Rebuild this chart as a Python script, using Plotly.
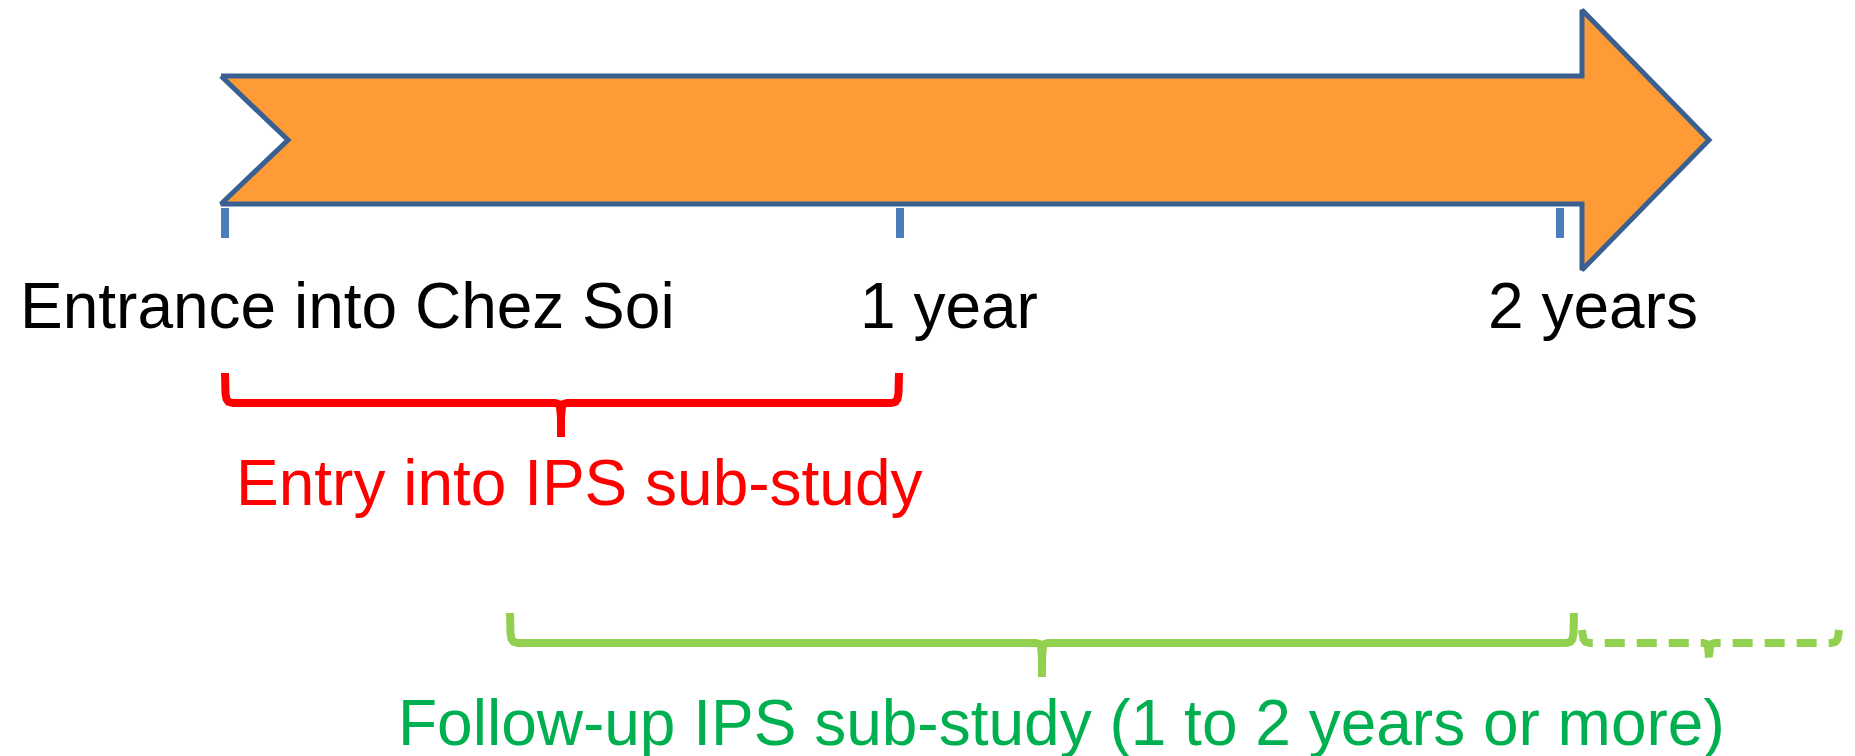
import plotly.graph_objects as go

W, H = 1855, 756

# ---- data (pixel-scaled diagram units) ----
milestone_labels = ["Entrance into Chez Soi", "1 year", "2 years"]
milestone_x = [225, 900, 1560]
label_left_x = [18, 858, 1486]
label_y = 306

# arrow outline vertices
arrow_x = [221, 1582, 1582, 1709, 1582, 1582, 221, 288, 221]
arrow_y = [76, 76, 10, 140, 270, 204, 204, 140, 76]

tick_top, tick_bottom = 208, 238

# braces: [x_start, x_end, x_mid, y_top, y_line, y_tip]
brace_entry = [225, 899, 561, 373, 403, 437]
brace_follow = [510, 1574, 1042, 613, 643, 677]
brace_follow_more = [1582, 1839, 1709, 630, 643, 654]

entry_text = "Entry into IPS sub-study"
entry_text_pos = [234, 483]
follow_text = "Follow-up IPS sub-study (1 to 2 years or more)"
follow_text_pos = [396, 723]

FONT = "Liberation Sans, Arial, sans-serif"
FONT_SIZE = 64


def brace_path(b):
    x0, x1, xm, yt, yh, yb = b
    h = yh - yt
    r = min(8, h * 0.6)
    xs = [x0, x0 + 0.5, x0 + 1.5, x0 + 3.5, x0 + r,
          xm - 6, xm - 2.5, xm - 1, xm - 0.5, xm, xm,
          xm, xm + 0.5, xm + 1, xm + 2.5, xm + 6,
          x1 - r, x1 - 3.5, x1 - 1.5, x1 - 0.5, x1]
    ys = [yt, yh - r * 1.2, yh - r * 0.5, yh - r * 0.15, yh,
          yh, yh + 1, yh + 4, yh + 9, yh + 15, yb,
          yh + 15, yh + 9, yh + 4, yh + 1, yh,
          yh, yh - r * 0.15, yh - r * 0.5, yh - r * 1.2, yt]
    return xs, ys


fig = go.Figure()

fig.add_trace(go.Scatter(
    x=arrow_x, y=arrow_y, mode="lines", fill="toself",
    fillcolor="#FF9B37", line=dict(color="#3A6091", width=5, simplify=False),
    hoverinfo="skip", showlegend=False))

tx, ty = [], []
for x in milestone_x:
    tx += [x, x, None]
    ty += [tick_top, tick_bottom, None]
fig.add_trace(go.Scatter(x=tx, y=ty, mode="lines",
                         line=dict(color="#4A7EBB", width=8, simplify=False),
                         hoverinfo="skip", showlegend=False))

for b, col, dash in [(brace_entry, "#FF0000", "solid"),
                     (brace_follow, "#92D050", "solid"),
                     (brace_follow_more, "#92D050", "20px,12px")]:
    xs, ys = brace_path(b)
    fig.add_trace(go.Scatter(x=xs, y=ys, mode="lines",
                             line=dict(color=col, width=8, dash=dash, simplify=False),
                             hoverinfo="skip", showlegend=False))

for lab, lx in zip(milestone_labels, label_left_x):
    fig.add_annotation(x=lx, y=label_y, text=lab, showarrow=False,
                       xanchor="left", yanchor="middle",
                       font=dict(family=FONT, size=FONT_SIZE, color="#000000"))

fig.add_annotation(x=entry_text_pos[0], y=entry_text_pos[1], text=entry_text,
                   showarrow=False, xanchor="left", yanchor="middle",
                   font=dict(family=FONT, size=FONT_SIZE, color="#FF0000"))
fig.add_annotation(x=follow_text_pos[0], y=follow_text_pos[1], text=follow_text,
                   showarrow=False, xanchor="left", yanchor="middle",
                   font=dict(family=FONT, size=FONT_SIZE, color="#00B050"))

fig.update_layout(
    width=W, height=H, margin=dict(l=0, r=0, t=0, b=0, pad=0),
    paper_bgcolor="white", plot_bgcolor="white",
    xaxis=dict(range=[0, W], visible=False, fixedrange=True),
    yaxis=dict(range=[H, 0], visible=False, fixedrange=True),
)

fig.write_html("out.html", config={"displayModeBar": False, "staticPlot": True},
               post_script="document.body.style.margin='0';document.body.style.overflow='hidden';")
